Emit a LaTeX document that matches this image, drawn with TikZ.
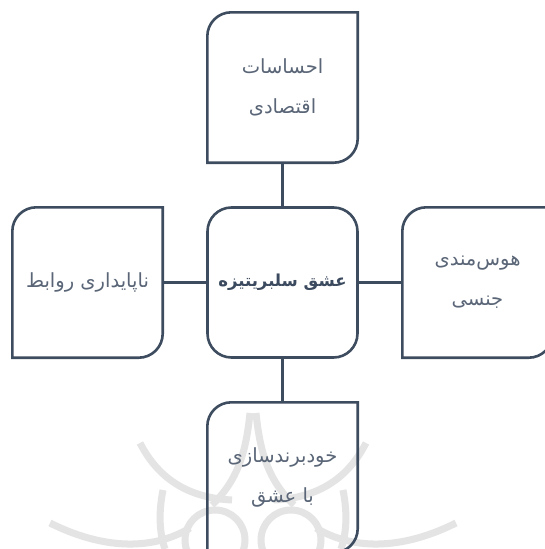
\documentclass[tikz,border=0pt]{standalone}
\usepackage{fontspec}
\usetikzlibrary{calc}
\TeXXeTstate=1
\newfontfamily\arabicfont[Script=Arabic]{DejaVu Sans}
\definecolor{edgecol}{HTML}{3E4C5F}
\definecolor{txtcol}{HTML}{5A6677}
\definecolor{maintxt}{HTML}{3B4A5E}
\definecolor{wmark}{HTML}{E4E4E4}
\tikzset{
  x=1pt, y=-1pt,
  leafbox/.style={minimum width=150pt, minimum height=150pt, inner sep=0pt, align=center,
    text=txtcol, font=\arabicfont\fontsize{19.5}{40}\selectfont},
  hubbox/.style={draw=edgecol, line width=2.6pt, rounded corners=24pt, minimum width=150pt,
    minimum height=150pt, inner sep=0pt, align=center, text=maintxt,
    font=\arabicfont\bfseries\fontsize{16.5}{40}\selectfont},
  frame/.style={draw=edgecol, line width=2.6pt},
  link/.style={draw=edgecol, line width=2.6pt},
  wm/.style={draw=wmark, line width=7pt}
}
\newcommand{\leafframe}[1]{%
  \draw[frame] ($(#1.north west)+(0,24)$) arc[start angle=180, end angle=90, radius=24pt]
    -- (#1.north east) -- ($(#1.south east)+(0,-24)$)
    arc[start angle=0, end angle=-90, radius=24pt] -- (#1.south west) -- cycle;}
\begin{document}
\begin{tikzpicture}
\useasboundingbox (0,0) rectangle (545,549);
\fill[white] (0,0) rectangle (545,549);
% faint watermark
\begin{scope}[wm]
  \draw (140,443) .. controls (160,482) and (192,498) .. (232,500);
  \draw (366,443) .. controls (346,482) and (314,498) .. (274,500);
  \draw (50,523) .. controls (100,548) and (150,552) .. (190,528);
  \draw (456,523) .. controls (406,548) and (356,552) .. (316,528);
  \draw (250,413) .. controls (246,452) and (238,480) .. (212,505);
  \draw (256,413) .. controls (260,452) and (268,480) .. (294,505);
  \draw (215,540) circle[radius=30pt];
  \draw (291,540) circle[radius=30pt];
  \draw (163,490) .. controls (158,515) and (160,535) .. (165,549);
  \draw (343,490) .. controls (348,515) and (346,535) .. (341,549);
\end{scope}
% nodes
\node[leafbox] (top) at (282.5,87.5) {\beginR احساسات\endR\\\beginR اقتصادی\endR};
\node[hubbox] (hub) at (282.5,282.5) {\beginR عشق سلبریتیزه\endR};
\node[leafbox] (left) at (87.5,282.5) {\beginR ناپایداری روابط\endR};
\node[leafbox] (right) at (477.5,282.5) {\beginR هوس‌مندی\endR\\\beginR جنسی\endR};
\node[leafbox] (bottom) at (282.5,477.5) {\beginR خودبرندسازی\endR\\\beginR با عشق\endR};
\leafframe{top}
\leafframe{left}
\leafframe{right}
\leafframe{bottom}
% connectors
\draw[link] (hub.north) -- (top.south);
\draw[link] (hub.west) -- (left.east);
\draw[link] (hub.east) -- (right.west);
\draw[link] (hub.south) -- (bottom.north);
\end{tikzpicture}
\end{document}
